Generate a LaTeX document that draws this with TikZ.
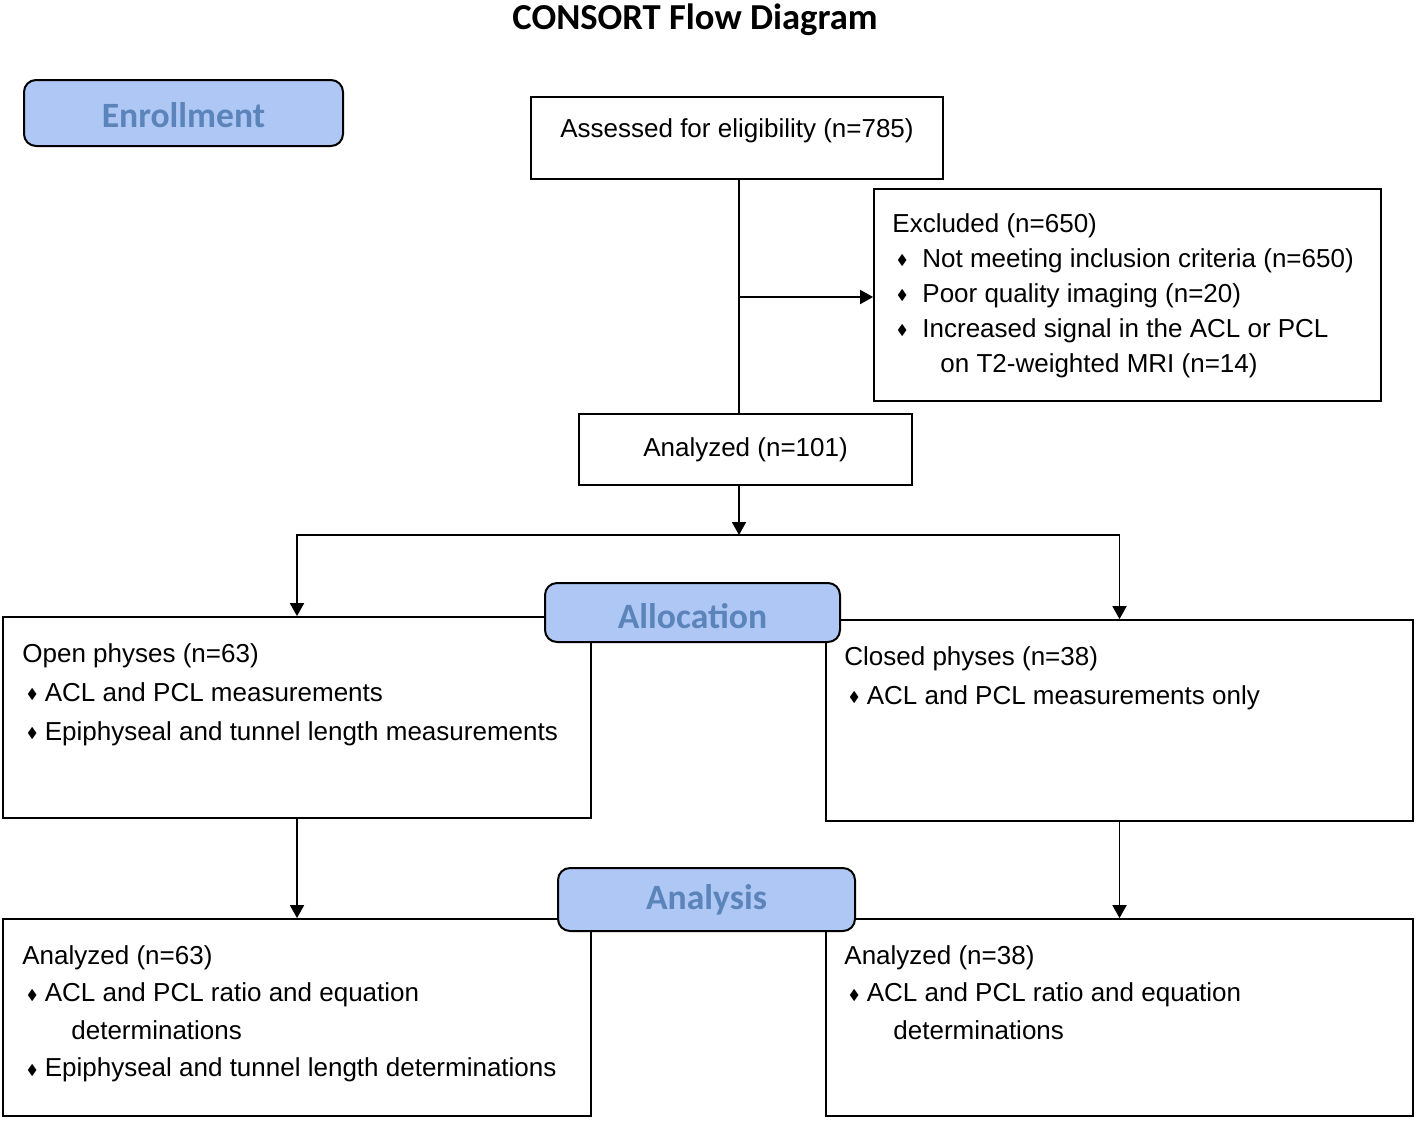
\documentclass[tikz,border=0pt]{standalone}
\usepackage{amssymb}
\usepackage{fontspec}
\setmainfont{Liberation Sans}
\newfontfamily\headfont{Carlito}
\usetikzlibrary{arrows.meta,fit}

\definecolor{stagefill}{RGB}{174,199,245}
\definecolor{stagetext}{RGB}{90,132,186}

% small black diamond with a hanging indent
\newcommand{\bul}[1][9pt]{\hspace*{2.2pt}\makebox[#1][l]{\raisebox{1.2pt}{\fontsize{7}{7}\selectfont$\blacklozenge$}}}

\tikzset{
  box/.style={draw, line width=0.9pt, inner sep=0pt},
  stage/.style={draw, line width=1pt, rounded corners=6pt, fill=stagefill, inner sep=0pt},
  stagelabel/.style={text=stagetext, font=\headfont\bfseries\fontsize{17.8}{20}\selectfont},
  lines/.style={align=left, inner sep=0pt, anchor=north west},
  link/.style={line width=0.9pt},
}

\begin{document}
\begin{tikzpicture}[x=0.5pt, y=-0.5pt, >={Triangle[length=6.5pt,width=7pt]},
  font=\fontsize{13}{17.5}\selectfont]
\useasboundingbox (0,0) rectangle (1416,1120);

\node[font=\headfont\bfseries\fontsize{18.3}{20}\selectfont] (title) at (695,20) {CONSORT Flow Diagram};

% enrollment
\node[box, fit={(531,97) (943,179)}] (assess) {};
\node (assesst) at ([yshift=3.5pt]assess.center) {Assessed for eligibility (n=785)};
\node[box, fit={(874,189) (1381,401)}] (excl) {};
\node[lines] (exclt) at (892,213) {Excluded (n=650)\\
  \bul[12.8pt]Not meeting inclusion criteria (n=650)\\
  \bul[12.8pt]Poor quality imaging (n=20)\\
  \bul[12.8pt]Increased signal in the ACL or PCL\\
  \hspace*{24pt}on T2-weighted MRI (n=14)};
\node[box, fit={(579,414) (912,485)}] (anal) {};
\node (analt) at (anal.center) {Analyzed (n=101)};

\coordinate (split) at (739,297);
\coordinate (fork) at (739,535);
\draw[link] (assess.south -| split) -- (anal.north -| split);
\draw[link,->] (split) -- (split -| excl.west);

% allocation
\node[box, fit={(3,617) (591,818)}] (open) {};
\node[lines] (opent) at (22,643) {Open physes (n=63)\\[2pt]
  \bul ACL and PCL measurements\\[2pt]
  \bul Epiphyseal and tunnel length measurements};
\node[box, fit={(826,620) (1413,821)}] (closed) {};
\node[lines] (closedt) at (844,646) {Closed physes (n=38)\\[2pt]
  \bul ACL and PCL measurements only};

\draw[link,->] (anal.south -| fork) -- (fork);
\draw[link,->] (fork) -| (open.north);
\draw[link,->] (fork) -| (closed.north);

% analysis
\node[box, fit={(3,919) (591,1116)}] (an63) {};
\node[lines] (an63t) at (22,945) {Analyzed (n=63)\\[1.2pt]
  \bul ACL and PCL ratio and equation\\[1.2pt]
  \hspace*{24.5pt}determinations\\[1.2pt]
  \bul Epiphyseal and tunnel length determinations};
\node[box, fit={(826,919) (1413,1116)}] (an38) {};
\node[lines] (an38t) at (844,945) {Analyzed (n=38)\\[1.2pt]
  \bul ACL and PCL ratio and equation\\[1.2pt]
  \hspace*{24.5pt}determinations};

\draw[link,->] (open) -- (an63);
\draw[link,->] (closed) -- (an38);

% stage labels
\node[stage, fit={(24,80) (343,146)}] (enrol) {};
\node[stagelabel] (enrolt) at ([yshift=-1pt]enrol.center) {Enrollment};
\node[stage, fit={(545,583) (840,642)}] (alloc) {};
\node[stagelabel] (alloct) at ([yshift=-2pt]alloc.center) {Allocation};
\node[stage, fit={(558,868) (855,931)}] (analys) {};
\node[stagelabel] (analyst) at (analys.center) {Analysis};
\end{tikzpicture}
\end{document}
